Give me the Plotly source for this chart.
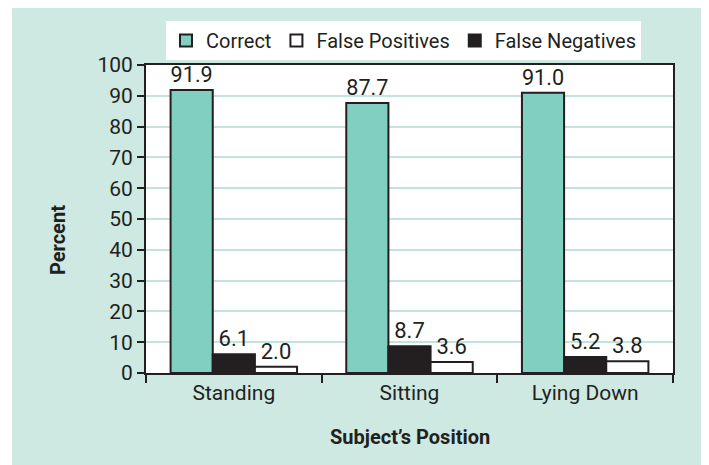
import plotly.graph_objects as go

categories = ["Standing", "Sitting", "Lying Down"]
correct = [91.9, 87.7, 91.0]
false_negatives = [6.1, 8.7, 5.2]
false_positives = [2.0, 3.6, 3.8]
y_ticks = [0, 10, 20, 30, 40, 50, 60, 70, 80, 90, 100]

DARK = "#231f20"
TEAL_BAR = "#80cfc1"
TEAL_BG = "#cde9e2"
GRID = "#c3e4dc"
FONT = "Roboto, sans-serif"

fig = go.Figure()

def add_bar(name, vals, color, rank):
    fig.add_trace(go.Bar(
        x=categories, y=vals, name=name,
        marker=dict(color=color, line=dict(color=DARK, width=2)),
        text=[f"{v:.1f}" for v in vals], textposition="outside",
        textfont=dict(size=22, color=DARK, family=FONT),
        cliponaxis=False, legendrank=rank,
    ))

add_bar("Correct", correct, TEAL_BAR, 1)
add_bar("False Negatives", false_negatives, DARK, 3)
add_bar("False Positives", false_positives, "white", 2)

# page body has an 8px margin: figure coordinates = window coordinates - 8
OFF = 8
W, H = 709 - OFF, 465 - OFF
L, R, T, B = 146 - OFF, 709 - 673, 65 - OFF, 465 - 373
pw, ph = W - L - R, H - T - B

def px(x):  # window x -> paper
    return (x - OFF - L) / pw

def py(y):  # window y -> paper
    return (H - B - (y - OFF)) / ph

fig.update_layout(
    width=W, height=H,
    margin=dict(l=L, r=R, t=T, b=B, pad=0),
    paper_bgcolor="white", plot_bgcolor="rgba(0,0,0,0)",
    barmode="group", bargap=0.28, bargroupgap=0,
    font=dict(family=FONT, size=21, color=DARK),
    showlegend=True,
    legend=dict(orientation="h", x=px(166), y=py(21), xanchor="left", yanchor="top",
                bgcolor="white", font=dict(size=20, color=DARK, family=FONT),
                itemwidth=30, traceorder="normal"),
    shapes=[
        dict(type="rect", xref="paper", yref="paper", x0=px(12), x1=px(712), y0=py(470), y1=py(6),
             fillcolor=TEAL_BG, line=dict(width=0), layer="below"),
        dict(type="rect", xref="paper", yref="paper", x0=0, x1=1, y0=0, y1=1,
             fillcolor="white", line=dict(width=0), layer="below"),
    ],
    annotations=[
        dict(text="<b>Subject’s Position</b>", xref="paper", yref="paper", x=0.5, y=py(437),
             xanchor="center", yanchor="middle", showarrow=False, font=dict(size=20, color=DARK, family=FONT)),
        dict(text="<b>Percent</b>", xref="paper", yref="paper", x=px(58), y=py(240),
             xanchor="center", yanchor="middle", textangle=-90, showarrow=False,
             font=dict(size=20, color=DARK, family=FONT)),
    ],
)

fig.update_xaxes(
    range=[-0.5, 2.5], showline=True, linecolor=DARK, linewidth=2, mirror=True,
    ticks="outside", tickson="boundaries", ticklen=8, tickwidth=2, tickcolor=DARK,
    showgrid=False, tickfont=dict(size=21, color=DARK, family=FONT),
)
fig.update_yaxes(
    range=[0, 100], tickvals=y_ticks, showline=True, linecolor=DARK, linewidth=2, mirror=True,
    ticks="outside", ticklen=7, tickwidth=2, tickcolor=DARK,
    showgrid=True, gridcolor=GRID, gridwidth=2, zeroline=False,
    tickfont=dict(size=21, color=DARK, family=FONT),
)

fig.write_html("out.html")
